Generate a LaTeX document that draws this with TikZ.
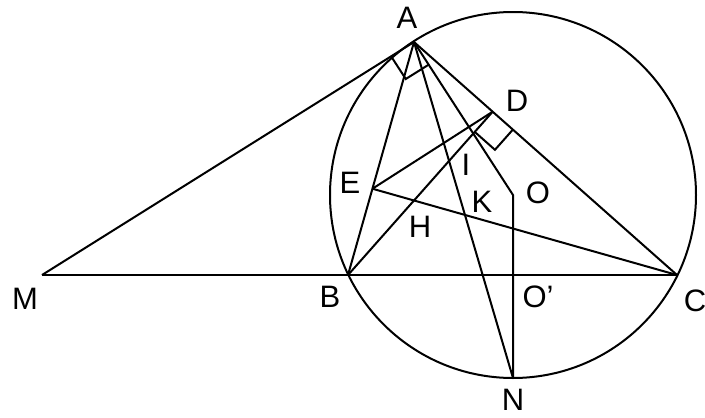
\documentclass[tikz,border=0pt]{standalone}
\usepackage{fontspec}
\setmainfont{Liberation Sans}
\usetikzlibrary{calc}
\begin{document}
\begin{tikzpicture}[x=1pt,y=-1pt,line width=2pt,
  lbl/.style={inner sep=0pt,font=\fontsize{31}{37}\selectfont}]
\useasboundingbox (0,0) rectangle (705,418);
% points
\coordinate (A) at (414,42);
\coordinate (B) at (348,275);
\coordinate (C) at (677,275);
\coordinate (M) at (42,275);
\coordinate (O) at (513,195);
\coordinate (N) at (513,378);
\coordinate (Op) at (513,275);
\coordinate (D) at ($(A)!(B)!(C)$);
\coordinate (E) at ($(A)!(C)!(B)$);
% circle
\draw (O) circle[radius=183pt];
% segments
\draw (M) -- (C);
\draw (M) -- (A);
\draw (A) -- (C);
\draw (A) -- (B);
\draw (A) -- (N);
\draw (A) -- (O) -- (N);
\draw (B) -- (D);
\draw (E) -- (D);
\draw (E) -- (C);
% right angle at A
\coordinate (a1) at ($(A)!27pt!(M)$);
\coordinate (a2) at ($(A)!27pt!(O)$);
\draw (a1) -- ($(a1)+(a2)-(A)$) -- (a2);
% right angle at D
\coordinate (d1) at ($(D)!27pt!(B)$);
\coordinate (d2) at ($(D)!27pt!(C)$);
\draw (d1) -- ($(d1)+(d2)-(D)$) -- (d2);
% labels
\node[lbl] (lA) at (407,18) {A};
\node[lbl] (lD) at (517,101) {D};
\node[lbl] (lE) at (350,183) {E};
\node[lbl] (lI) at (466,165) {I};
\node[lbl] (lK) at (482,202) {K};
\node[lbl] (lO) at (538,193) {O};
\node[lbl] (lH) at (420,227) {H};
\node[lbl] (lB) at (330,297) {B};
\node[lbl] (lOp) at (538,297) {O\char39};
\node[lbl] (lN) at (513,400) {N};
\node[lbl] (lM) at (25,299) {M};
\node[lbl] (lC) at (695,301) {C};
\end{tikzpicture}
\end{document}
